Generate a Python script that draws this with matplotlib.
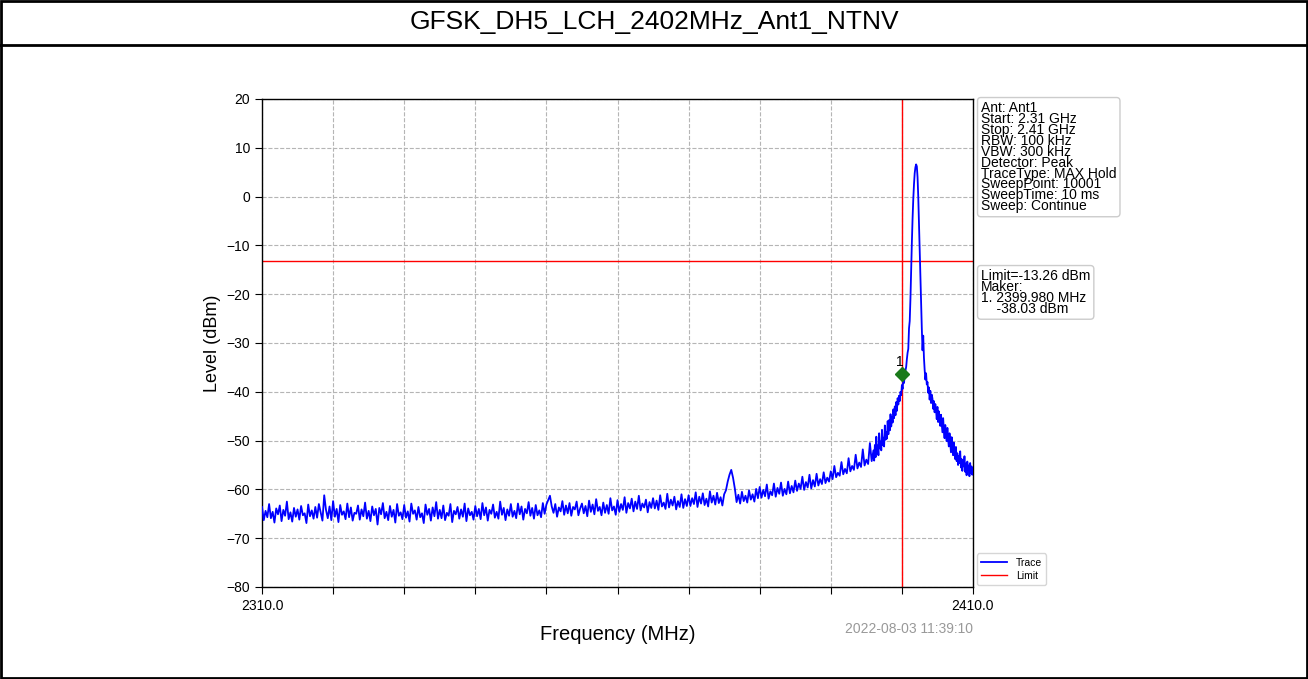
import numpy as np
import matplotlib
matplotlib.use("Agg")
import matplotlib.pyplot as plt
from matplotlib.lines import Line2D

plt.rcParams['font.family'] = ['Liberation Sans', 'DejaVu Sans']

title = "GFSK_DH5_LCH_2402MHz_Ant1_NTNV"
x_label = "Frequency (MHz)"
y_label = "Level (dBm)"
timestamp = "2022-08-03 11:39:10"
x_start, x_stop = 2310.0, 2410.0
y_min, y_max = -80, 20
limit_level = -13.26
limit_freq = 2400.0
marker_freq = 2399.98
marker_level_drawn = -36.3
info_lines = ["Ant: Ant1", "Start: 2.31 GHz", "Stop: 2.41 GHz", "RBW: 100 kHz",
              "VBW: 300 kHz", "Detector: Peak", "TraceType: MAX Hold",
              "SweepPoint: 10001", "SweepTime: 10 ms", "Sweep: Continue"]
marker_lines = ["Limit=-13.26 dBm", "Maker:", "1. 2399.980 MHz", "    -38.03 dBm"]

# Sweep segments: (start MHz, step MHz) with levels
seg_a_start, seg_a_step = 2310.0, 0.25
seg_a_levels = [
    -63.6, -66.3, -64.4, -65.7, -63.0, -65.9, -64.6, -66.8, -63.9, -65.1, -63.3, -66.5, -64.2, -65.4, -62.5, -66.1, -64.7, -66.6, -63.8, -65.6,
    -64.1, -66.2, -63.4, -65.3, -64.9, -66.9, -63.1, -65.5, -64.3, -66.0, -63.6, -65.8, -63.0, -64.7, -66.4, -61.2, -64.2, -65.9, -63.5, -66.3,
    -62.4, -65.6, -64.0, -66.7, -63.2, -65.2, -64.5, -66.1, -62.9, -65.7, -63.7, -66.4, -64.8, -65.0, -63.3, -66.2, -64.1, -65.5, -62.7, -66.0,
    -64.4, -66.5, -63.5, -65.3, -64.0, -67.2, -63.8, -65.1, -62.8, -65.9, -64.6, -66.3, -63.4, -65.6, -64.2, -66.8, -63.0, -65.4, -64.7, -66.1,
    -63.2, -65.8, -64.5, -66.6, -62.9, -65.0, -64.3, -66.2, -63.6, -65.7, -64.9, -66.9, -63.1, -65.2, -64.0, -66.4, -63.7, -65.5, -62.6, -66.0,
    -64.2, -65.9, -63.3, -66.3, -64.8, -65.4, -63.0, -66.7, -64.4, -65.1, -63.6, -66.0, -64.1, -65.6, -62.9, -66.5, -63.9, -65.3, -64.6, -66.2,
    -63.4, -65.5, -64.0, -66.1, -62.8, -65.3, -63.7, -66.4, -64.2, -65.0, -63.1, -65.8, -64.6, -66.0, -62.5, -65.2, -63.8, -66.3, -64.1, -65.4,
    -63.0, -65.6, -64.4, -65.9, -62.9, -65.1, -63.5, -66.2, -64.0, -64.9, -62.6, -65.4, -63.8, -66.0, -63.2, -65.3, -64.3, -65.7, -62.8, -65.0,
    -63.1, -62.2, -61.3, -63.5, -64.8, -63.0, -65.6, -63.7, -64.5, -62.4, -65.2, -63.3, -64.9, -62.8, -65.4, -63.6, -64.1, -62.5, -65.3, -63.9,
    -62.9, -64.9, -63.4, -65.5, -62.3, -64.6, -63.1, -65.1, -62.0, -64.4, -63.6, -65.3, -62.7, -64.8, -63.2, -65.0, -61.8, -64.3, -63.5, -65.2,
    -62.2, -64.6, -63.0, -64.2, -61.6, -64.8, -62.8, -63.9, -61.9, -64.5, -62.5, -64.0, -61.3, -64.3, -62.9, -63.7, -62.1, -64.7, -62.6, -63.8,
    -61.8, -63.9, -62.3, -64.2, -61.2, -63.5, -62.7, -64.0, -60.9, -63.7, -62.1, -63.3, -61.5, -64.1, -62.4, -63.6, -61.0, -63.8, -62.0, -63.4,
    -61.2, -63.4, -61.8, -63.0, -60.6, -63.6, -61.5, -62.9, -60.8, -63.2, -61.9, -63.5, -60.4, -62.7, -61.3, -63.1, -60.7, -62.8, -61.6, -63.3,
    -61.0, -60.2, -58.4, -57.0, -56.0, -57.6, -59.8, -62.6, -61.1, -62.9, -60.5, -62.4, -61.3, -62.7, -60.2, -62.1, -61.0, -62.5, -59.9, -61.8,
    -59.5, -61.7, -60.1, -61.4, -59.0, -61.9, -60.4, -61.2, -58.8, -61.5, -59.7, -60.9, -58.6, -61.3, -59.9, -61.0, -58.4, -60.8, -59.3, -60.6,
    -58.2, -60.3, -58.8, -59.9, -57.4, -60.1, -58.5, -59.6, -57.0, -59.8, -58.1, -59.4, -56.8, -59.2, -57.9, -58.9, -56.5, -58.7, -57.6, -58.4,
    -56.3, -57.9, -55.2, -57.5, -56.6, -57.2, -54.4, -56.9, -55.8, -56.7, -53.6, -56.3, -55.2, -56.0, -52.9, -55.7, -54.5, -55.4, -51.8, -55.1,
    -53.9, -54.8, -50.5, -54.2,
]
seg_b_start, seg_b_step = 2396.0, 0.1
seg_b_levels = [
    -52.0, -54.1, -50.9, -53.4, -49.2, -52.6, -51.0, -53.0, -48.5, -51.6,
    -50.2, -52.0, -47.8, -50.9, -49.4, -51.2, -46.9, -49.8, -48.3, -49.6,
    -46.0, -48.7, -45.8, -47.9, -44.6, -47.1, -45.2, -46.3, -43.6, -45.4,
    -43.0, -44.8, -42.1, -43.9, -41.3, -42.6, -40.8, -41.9, -40.0, -40.7,
    -38.6, -39.4, -37.5, -38.2, -36.4, -35.6, -34.9, -33.3, -32.0, -31.2,
    -27.0,
]
seg_c_start, seg_c_step = 2401.1, 0.1
seg_c_levels = [
    -25.5, -21.0, -15.0, -9.5, -4.5, -0.5, 2.5, 4.8, 6.0, 6.6,
    6.2, 4.0, 0.0, -5.5, -11.0, -17.0, -22.5, -27.0, -31.5, -28.5,
    -33.0, -35.5, -37.5, -36.2, -38.5,
]
seg_d_start, seg_d_step = 2403.6, 0.1
seg_d_levels = [
    -38.0, -40.2, -39.1, -41.6, -39.8, -42.3, -40.6, -41.4, -43.5, -41.9,
    -44.2, -42.5, -43.8, -45.6, -43.1, -46.2, -44.0, -45.4, -47.0, -44.7,
    -46.5, -48.3, -45.4, -47.9, -49.5, -46.8, -48.6, -50.1, -47.4, -49.8,
    -51.2, -48.5, -50.6, -52.4, -49.3, -51.7, -53.0, -50.4, -52.5, -53.8,
    -51.3, -54.2, -52.6, -55.0, -53.1, -54.6, -52.2, -55.5, -53.8, -56.2,
    -54.0, -55.3, -53.2, -56.4, -54.7, -57.1, -54.3, -56.0, -55.1, -57.3,
    -54.6, -56.6, -55.3, -57.0, -55.6,
]

def seg_freqs(start, step, levels):
    return start + step * np.arange(len(levels))

freqs = np.concatenate([
    seg_freqs(seg_a_start, seg_a_step, seg_a_levels),
    seg_freqs(seg_b_start, seg_b_step, seg_b_levels),
    seg_freqs(seg_c_start, seg_c_step, seg_c_levels),
    seg_freqs(seg_d_start, seg_d_step, seg_d_levels),
])
levels = np.array(seg_a_levels + seg_b_levels + seg_c_levels + seg_d_levels)

W, H = 1308, 679
fig = plt.figure(figsize=(W / 100, H / 100), dpi=100)
fig.patch.set_facecolor('white')

# outer frame + title separator
fig.add_artist(plt.Rectangle((1 / W, 1 / H), (W - 2) / W, (H - 2) / H, transform=fig.transFigure,
                             fill=False, edgecolor='black', linewidth=2))
fig.add_artist(Line2D([0, 1], [1 - 45 / H, 1 - 45 / H], transform=fig.transFigure,
                      color='black', linewidth=2))
fig.text(0.5, 1 - 22 / H, title, ha='center', va='center', fontsize=19)

ax = fig.add_axes([262 / W, 1 - 587 / H, (973 - 262) / W, (587 - 99) / H])
ax.plot(freqs, levels, color='blue', linewidth=1.3, label='Trace', zorder=3)
ax.axhline(limit_level, color='red', linewidth=1.0, label='Limit', zorder=2)
ax.axvline(limit_freq, color='red', linewidth=1.0, zorder=2)
ax.plot([marker_freq], [marker_level_drawn], marker='D', color='#1a7a1a', markersize=7, zorder=5,
        linestyle='none')
ax.text(marker_freq - 0.25, marker_level_drawn + 1.0, "1", fontsize=10, ha='center', va='bottom')

ax.set_xlim(x_start, x_stop)
ax.set_ylim(y_min, y_max)
ax.set_xticks(np.linspace(x_start, x_stop, 11))
ax.set_xticklabels(["2310.0"] + [""] * 9 + ["2410.0"], fontsize=10)
ax.set_yticks(np.arange(y_min, y_max + 1, 10))
ax.tick_params(axis='y', labelsize=10, length=5)
ax.tick_params(axis='x', length=5)
ax.grid(True, color='#b5b5b5', linestyle='--', linewidth=0.8)
ax.set_axisbelow(True)
for s in ax.spines.values():
    s.set_linewidth(1.0)
ax.set_xlabel(x_label, fontsize=14.5, labelpad=9)
ax.set_ylabel(y_label, fontsize=13, labelpad=4)

fig.text(973 / W, 1 - 629 / H, timestamp, ha='right', va='center', fontsize=10, color='#999999')

bbox = dict(boxstyle='round,pad=0.25', facecolor='white', edgecolor='#cccccc', linewidth=1)
fig.text(981 / W, 1 - 101 / H, "\n".join(info_lines), ha='left', va='top', fontsize=10,
         linespacing=0.72, bbox=bbox)
fig.text(981 / W, 1 - 269 / H, "\n".join(marker_lines), ha='left', va='top', fontsize=10,
         linespacing=0.72, bbox=bbox)

leg = ax.legend(loc='lower left', bbox_to_anchor=(1.003, 0.0), fontsize=7.5, frameon=True,
                handlelength=2.5, borderpad=0.4, labelspacing=0.3, borderaxespad=0.2)
leg.get_frame().set_edgecolor('#cccccc')

fig.savefig("out.png", dpi=100)
